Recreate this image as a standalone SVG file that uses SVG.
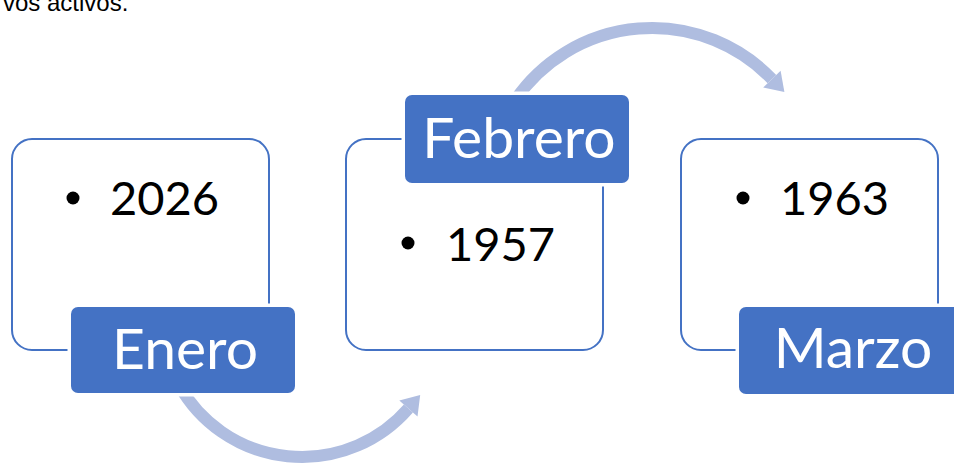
<svg xmlns="http://www.w3.org/2000/svg" width="954" height="465" viewBox="0 0 954 465">
<style>
.box{fill:#fff;stroke:#4472C4;stroke-width:2}
.lab{fill:#4472C4;stroke:#fff;stroke-width:7;paint-order:stroke}
.lt{font-family:Lato,"Noto Sans",sans-serif;font-size:57px;fill:#fff;text-anchor:middle}
.num{font-family:Lato,"Noto Sans",sans-serif;font-size:47px;fill:#000}
.arc{fill:none;stroke:#AFBDE0;stroke-width:12}
.head{fill:#AFBDE0}
</style>
<rect width="954" height="465" fill="#fff"/>
<text x="3" y="11" font-family="Liberation Sans, Arial, sans-serif" font-size="24" fill="#000">vos activos.</text>
<g id="connectors">
<path class="arc" d="M 179 385 A 141 141 0 0 0 408.4 408.5"/>
<polygon class="head" points="417.5,416.4 399.3,400.6 420.2,394.9"/>
<path class="arc" d="M 515.2 100 A 166 166 0 0 1 771.9 79.1"/>
<polygon class="head" points="780.6,70.8 763.2,87.4 784.4,92.1"/>
</g>
<g id="node-enero">
<rect class="box" x="12" y="139" width="257" height="211" rx="20"/>
<circle cx="73" cy="198" r="6.5"/>
<text class="num" x="110" y="215">2026</text>
<rect class="lab" x="71" y="307" width="224" height="86" rx="7"/>
<text class="lt" x="185" y="369">Enero</text>
</g>
<g id="node-febrero">
<rect class="box" x="346" y="139" width="257" height="211" rx="20"/>
<circle cx="408" cy="243" r="6.5"/>
<text class="num" x="446" y="261">1957</text>
<rect class="lab" x="405" y="95" width="224" height="88" rx="7"/>
<text class="lt" x="519" y="158">Febrero</text>
</g>
<g id="node-marzo">
<rect class="box" x="681" y="139" width="257" height="211" rx="20"/>
<circle cx="743" cy="198" r="6.5"/>
<text class="num" x="780" y="215">1963</text>
<rect class="lab" x="739" y="307" width="224" height="87" rx="7"/>
<text class="lt" x="853" y="368">Marzo</text>
</g>
</svg>
